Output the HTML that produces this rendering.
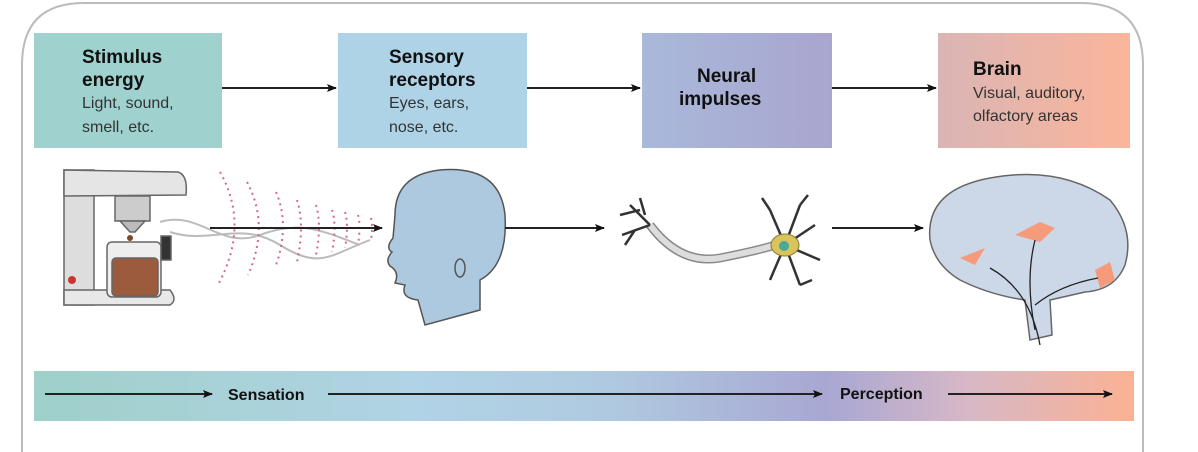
<!DOCTYPE html>
<html><head><style>
html,body{margin:0;padding:0;background:#fff;width:1198px;height:452px;overflow:hidden;}
svg{display:block;overflow:hidden}
text{font-family:"Liberation Sans",Arial,sans-serif;}
</style></head><body>
<svg width="1198" height="452" viewBox="0 0 1198 452" xmlns="http://www.w3.org/2000/svg">
<defs>
<linearGradient id="b3" x1="0" x2="1"><stop offset="0" stop-color="#a9b9da"/><stop offset="1" stop-color="#a9a5cf"/></linearGradient>
<linearGradient id="b4" x1="0" x2="1"><stop offset="0" stop-color="#dab5b5"/><stop offset="1" stop-color="#fbb59a"/></linearGradient>
<linearGradient id="bar" x1="0" x2="1">
<stop offset="0" stop-color="#9fd0c9"/><stop offset="0.35" stop-color="#b1d3e6"/><stop offset="0.52" stop-color="#afcae0"/><stop offset="0.72" stop-color="#a8a7d3"/><stop offset="0.85" stop-color="#d7b8c6"/><stop offset="1" stop-color="#fbb193"/></linearGradient>
<marker id="ar" markerWidth="10" markerHeight="8" refX="9" refY="4" orient="auto" markerUnits="userSpaceOnUse"><path d="M0,0 L10,4 L0,8 L2,4 z" fill="#111"/></marker>
<clipPath id="cp"><rect x="0" y="0" width="1198" height="452"/></clipPath>
</defs>
<g clip-path="url(#cp)">
<path d="M22,452 L22,65 Q22,3 84,3 L1081,3 Q1143,3 1143,65 L1143,452" fill="#fff" stroke="#bbb" stroke-width="2"/>
</g>
<!-- boxes -->
<rect x="34" y="33" width="188" height="115" fill="#9fd1ce"/>
<rect x="338" y="33" width="189" height="115" fill="#aed2e6"/>
<rect x="642" y="33" width="190" height="115" fill="url(#b3)"/>
<rect x="938" y="33" width="192" height="115" fill="url(#b4)"/>
<g font-weight="bold" font-size="19" fill="#111">
<text x="82" y="63">Stimulus</text><text x="82" y="86">energy</text>
<text x="389" y="63">Sensory</text><text x="389" y="86">receptors</text>
<text x="697" y="82">Neural</text><text x="679" y="105">impulses</text>
<text x="973" y="75">Brain</text>
</g>
<g font-size="16" fill="#333">
<text x="82" y="108">Light, sound,</text><text x="82" y="132">smell, etc.</text>
<text x="389" y="108">Eyes, ears,</text><text x="389" y="132">nose, etc.</text>
<text x="973" y="98">Visual, auditory,</text><text x="973" y="121">olfactory areas</text>
</g>
<g stroke="#222" stroke-width="2" marker-end="url(#ar)">
<line x1="222" y1="88" x2="336" y2="88"/>
<line x1="527" y1="88" x2="640" y2="88"/>
<line x1="832" y1="88" x2="936" y2="88"/>
</g>
<!-- coffee maker -->
<g stroke="#666" stroke-width="1.5">
<rect x="64" y="170" width="30" height="135" fill="#ddd"/>
<path d="M64,170 L178,172 Q188,175 186,195 L64,196 z" fill="#e5e5e5"/>
<rect x="115" y="196" width="35" height="25" fill="#ccc"/>
<path d="M120,221 L145,221 L135,232 L130,232 z" fill="#bbb"/>
<path d="M64,290 L170,290 Q178,300 170,305 L64,305 z" fill="#e8e8e8"/>
<rect x="107" y="242" width="54" height="55" rx="5" fill="#eee"/>
<rect x="112" y="258" width="46" height="38" rx="4" fill="#9c5b3c"/>
<rect x="161" y="236" width="10" height="24" fill="#333"/>
</g>
<circle cx="72" cy="280" r="4" fill="#c33"/>
<circle cx="130" cy="238" r="3" fill="#7a4a2a"/>
<!-- smell waves & dotted sound -->
<g fill="none" stroke="#bbb" stroke-width="2">
<path d="M160,222 C200,210 220,250 260,235 S320,230 360,245"/>
<path d="M170,232 C210,245 240,220 280,245 S330,255 370,240"/>
</g>
<g fill="none" stroke="#d56a86" stroke-width="2" stroke-dasharray="2,4">
<path d="M220,172 Q250,225 218,285"/>
<path d="M247,182 Q270,225 248,275"/>
<path d="M276,192 Q290,225 276,265"/>
<path d="M297,200 Q305,225 297,262"/>
<path d="M316,205 Q322,225 316,255"/>
<path d="M332,210 Q337,225 332,252"/>
<path d="M345,212 Q349,225 345,248"/>
<path d="M358,215 Q361,225 358,245"/>
<path d="M371,218 Q373,228 371,240"/>
</g>
<line x1="210" y1="228" x2="382" y2="228" stroke="#222" stroke-width="2" marker-end="url(#ar)"/>
<!-- head -->
<path d="M395,215 Q395,175 440,170 Q500,165 505,215 Q508,265 480,280 L480,310 L425,325 L418,300 Q400,298 405,285 L395,283 Q400,272 390,266 Q385,260 392,252 Q385,248 393,238 Z" fill="#acc9df" stroke="#555" stroke-width="1.5"/>
<ellipse cx="460" cy="268" rx="5" ry="9" fill="none" stroke="#555" stroke-width="1.5"/>
<line x1="505" y1="228" x2="604" y2="228" stroke="#222" stroke-width="2" marker-end="url(#ar)"/>
<!-- neuron -->
<path d="M650,225 Q680,265 720,258 Q760,250 775,245" fill="none" stroke="#888" stroke-width="9"/>
<path d="M650,225 Q680,265 720,258 Q760,250 775,245" fill="none" stroke="#ddd" stroke-width="6"/>
<g stroke="#333" stroke-width="2.5" fill="none">
<path d="M650,225 L630,205 M650,225 L622,235 M645,215 L640,198 M635,230 L625,245 M640,210 L620,215"/>
<path d="M785,245 L770,210 M785,245 L800,205 M785,245 L815,225 M785,245 L820,260 M785,245 L770,280 M785,245 L800,285 M770,210 L762,198 M800,205 L808,195 M800,285 L812,280"/>
</g>
<ellipse cx="785" cy="245" rx="14" ry="11" fill="#d8c45a" stroke="#8a7a30"/>
<circle cx="784" cy="246" r="5" fill="#4aa89a"/>
<line x1="832" y1="228" x2="923" y2="228" stroke="#222" stroke-width="2" marker-end="url(#ar)"/>
<!-- brain -->
<path d="M930,240 Q925,190 990,178 Q1060,165 1110,200 Q1135,230 1125,265 Q1115,290 1085,292 L1050,300 L1052,335 L1030,340 L1025,300 Q990,295 960,280 Q935,265 930,240 Z" fill="#ccd8e8" stroke="#666" stroke-width="1.5"/>
<path d="M960,258 L985,248 L975,265 Z" fill="#f59a7a"/>
<path d="M1015,235 L1040,222 L1055,228 L1040,242 Z" fill="#f59a7a"/>
<path d="M1095,270 L1110,262 L1115,280 L1100,288 Z" fill="#f59a7a"/>
<g fill="none" stroke="#222" stroke-width="1.3">
<path d="M1040,345 Q1030,290 990,268"/><path d="M1035,330 Q1025,280 1035,240"/><path d="M1035,305 Q1060,285 1098,278"/>
</g>
<!-- bottom bar -->
<rect x="34" y="371" width="1100" height="50" fill="url(#bar)"/>
<g stroke="#222" stroke-width="2" marker-end="url(#ar)">
<line x1="45" y1="394" x2="212" y2="394"/>
<line x1="328" y1="394" x2="822" y2="394"/>
<line x1="948" y1="394" x2="1112" y2="394"/>
</g>
<g font-weight="bold" font-size="16" fill="#111">
<text x="228" y="400">Sensation</text>
<text x="840" y="399">Perception</text>
</g>
</svg>
</body></html>
